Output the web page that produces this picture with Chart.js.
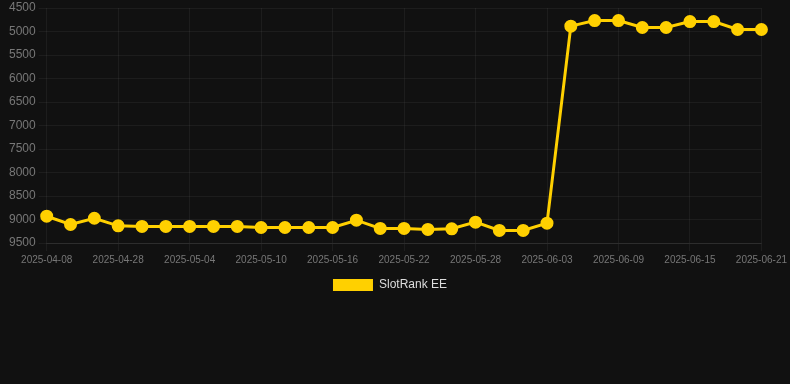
<!DOCTYPE html>
<html>
<head>
<meta charset="utf-8">
<script src="https://cdn.jsdelivr.net/npm/chart.js@4/dist/chart.umd.min.js"></script>
<style>
html,body{margin:0;padding:0;background:#111111;}
#wrap{width:790px;height:301px;position:relative;}
</style>
</head>
<body>
<div id="wrap"><canvas id="c"></canvas></div>
<script>
const categories = ["2025-04-08","2025-04-14","2025-04-21","2025-04-28","2025-04-30","2025-05-02","2025-05-04","2025-05-06","2025-05-08","2025-05-10","2025-05-12","2025-05-14","2025-05-16","2025-05-18","2025-05-20","2025-05-22","2025-05-24","2025-05-26","2025-05-28","2025-05-30","2025-06-01","2025-06-03","2025-06-05","2025-06-07","2025-06-09","2025-06-11","2025-06-13","2025-06-15","2025-06-17","2025-06-19","2025-06-21"];
const seriesName = "SlotRank EE";
const rankValues = [8930,9106,8973,9135,9148,9148,9148,9148,9148,9170,9170,9170,9170,9015,9190,9190,9212,9198,9057,9233,9233,9078,4886,4767,4767,4915,4915,4789,4789,4958,4958];
const yTicks = [4500,5000,5500,6000,6500,7000,7500,8000,8500,9000,9500];

const gold = '#ffd000';
const fontFam = 'Arial, "Liberation Sans", sans-serif';
const legendShift = {
  id: 'legendShift',
  afterLayout(chart) {
    if (chart.legend) { chart.legend.left -= 8; chart.legend.right -= 8; }
  }
};
new Chart(document.getElementById('c'), {
  type: 'line',
  data: {
    labels: categories,
    datasets: [{
      label: seriesName,
      data: rankValues,
      borderColor: gold,
      backgroundColor: gold,
      borderWidth: 3,
      pointRadius: 5,
      pointBackgroundColor: gold,
      pointBorderColor: gold,
      tension: 0
    }]
  },
  plugins: [legendShift],
  options: {
    responsive: true,
    maintainAspectRatio: false,
    animation: false,
    layout: { padding: { left: 6 } },
    scales: {
      x: {
        grid: { color: 'rgba(255,255,255,0.05)' },
        border: { color: 'rgba(255,255,255,0.08)' },
        ticks: { color: '#777', font: { size: 10, family: fontFam }, maxRotation: 0, autoSkip: true }
      },
      y: {
        reverse: true,
        min: yTicks[0],
        max: yTicks[yTicks.length - 1],
        afterBuildTicks: (ax) => { ax.ticks = yTicks.map(v => ({ value: v })); },
        grid: { color: 'rgba(255,255,255,0.05)' },
        border: { display: false },
        ticks: { color: '#777', font: { size: 12, family: fontFam, lineHeight: 0.65 }, callback: (v) => String(v) }
      }
    },
    plugins: {
      legend: {
        position: 'bottom',
        labels: {
          color: '#ddd', boxWidth: 40, boxHeight: 12,
          font: { size: 12, family: fontFam },
          generateLabels: (chart) => Chart.defaults.plugins.legend.labels.generateLabels(chart).map(l => Object.assign(l, { lineWidth: 0 }))
        }
      },
      tooltip: { enabled: false }
    }
  }
});
</script>
</body>
</html>
